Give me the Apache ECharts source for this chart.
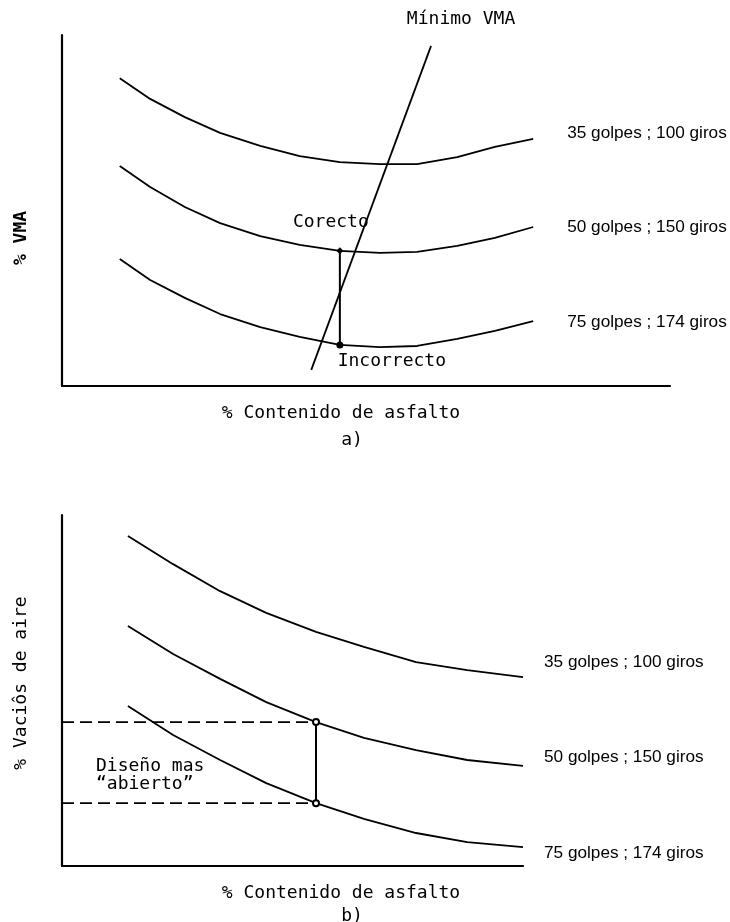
<!DOCTYPE html>
<html>
<head>
<meta charset="utf-8">
<script src="https://cdn.jsdelivr.net/npm/echarts@6/dist/echarts.min.js"></script>
<style>
  html, body { margin: 0; padding: 0; background: #fff; }
  #chart { width: 730px; height: 922px; }
</style>
</head>
<body>
<div id="chart"></div>
<script>
// a) % VMA vs % contenido de asfalto (sin escala: unidades 0-100)
const xTop = [9.5, 14.5, 20.2, 26.0, 32.6, 39.1, 45.7, 52.3, 58.4, 65.0, 71.2, 77.5];
const vma35 = [87.7, 81.8, 76.6, 72.1, 68.4, 65.5, 63.8, 63.2, 63.2, 65.2, 68.1, 70.4];
const vma50 = [62.7, 56.7, 51.0, 46.4, 42.7, 40.2, 38.5, 37.9, 38.2, 39.9, 42.2, 45.3];
const vma75 = [36.2, 30.2, 25.1, 20.5, 16.8, 14.0, 11.7, 11.1, 11.4, 13.4, 15.7, 18.5];
const minVma = [[60.7, 96.9], [41.0, 4.6]];
const checkIdx = 6;

// b) % vacios de aire vs % contenido de asfalto
const xBottom = [14.3, 24.1, 34.3, 44.3, 55.1, 65.5, 76.8, 87.9, 100];
const voids35 = [94.0, 86.0, 78.3, 72.1, 66.7, 62.4, 58.1, 55.8, 53.8];
const voids50 = [68.4, 60.4, 53.3, 46.7, 41.0, 36.5, 33.0, 30.2, 28.5];
const voids75 = [45.6, 37.3, 30.2, 23.6, 17.9, 13.4, 9.4, 6.8, 5.4];
const designIdx = 4;

const names = ["35 golpes ; 100 giros", "50 golpes ; 150 giros", "75 golpes ; 174 giros"];
const topLabelShift = [[34, -6], [34, 0], [34, 1]];
const bottomLabelShift = [[21, -15], [21, -9], [21, 6]];

const cad = "DejaVu Sans Mono";
const chart = echarts.init(document.getElementById("chart"));

function axisX(idx, max) {
  return {
    type: "value", gridIndex: idx, min: 0, max: max,
    axisLine: { lineStyle: { color: "#000", width: 2.2 } },
    axisTick: { show: false }, axisLabel: { show: false }, splitLine: { show: false }
  };
}
function axisY(idx) {
  return {
    type: "value", gridIndex: idx, min: 0, max: 100,
    axisLine: { show: true, lineStyle: { color: "#000", width: 2.2 } },
    axisTick: { show: false }, axisLabel: { show: false }, splitLine: { show: false }
  };
}
function curve(i, xs, ys, grid, shift) {
  return {
    name: names[i], type: "line", xAxisIndex: grid, yAxisIndex: grid,
    data: xs.map((x, k) => [x, ys[k]]),
    showSymbol: false, silent: true,
    lineStyle: { color: "#000", width: 1.8 },
    endLabel: {
      show: true, formatter: names[i], distance: 0, offset: shift[i],
      fontFamily: "Liberation Sans", fontSize: 17.2, color: "#000"
    }
  };
}
const cadLabel = { fontFamily: cad, fontSize: 18, color: "#000" };

chart.setOption({
  animation: false,
  backgroundColor: "#fff",
  grid: [
    { left: 62, top: 35, width: 608, height: 351 },
    { left: 62, top: 515, width: 461, height: 351 }
  ],
  xAxis: [axisX(0, 100), axisX(1, 100)],
  yAxis: [axisY(0), axisY(1)],
  series: [
    curve(0, xTop, vma35, 0, topLabelShift),
    curve(1, xTop, vma50, 0, topLabelShift),
    curve(2, xTop, vma75, 0, topLabelShift),
    {
      type: "line", xAxisIndex: 0, yAxisIndex: 0, silent: true,
      data: [
        { value: minVma[0], label: Object.assign({ show: true, position: "inside", offset: [30, -27], formatter: "Mínimo VMA" }, cadLabel) },
        minVma[1]
      ],
      symbol: "circle", symbolSize: 0.1, showAllSymbol: true,
      itemStyle: { color: "#000" },
      lineStyle: { color: "#000", width: 1.8 }
    },
    {
      type: "line", xAxisIndex: 0, yAxisIndex: 0, silent: true,
      data: [
        { value: [xTop[checkIdx], vma50[checkIdx]], symbol: "diamond",
          label: Object.assign({ show: true, position: "inside", offset: [-9, -29], formatter: "Corecto" }, cadLabel) },
        { value: [xTop[checkIdx], vma75[checkIdx]], symbol: "circle",
          label: Object.assign({ show: true, position: "inside", offset: [52, 16], formatter: "Incorrecto" }, cadLabel) }
      ],
      symbolSize: 7, showAllSymbol: true,
      itemStyle: { color: "#000" },
      lineStyle: { color: "#000", width: 2 }
    },

    curve(0, xBottom, voids35, 1, bottomLabelShift),
    curve(1, xBottom, voids50, 1, bottomLabelShift),
    curve(2, xBottom, voids75, 1, bottomLabelShift),
    {
      type: "line", xAxisIndex: 1, yAxisIndex: 1, silent: true,
      data: [[0, voids50[designIdx]], [xBottom[designIdx], voids50[designIdx]]],
      symbol: "none", lineStyle: { color: "#000", width: 1.6, type: [12, 6] }
    },
    {
      type: "line", xAxisIndex: 1, yAxisIndex: 1, silent: true,
      data: [[0, voids75[designIdx]], [xBottom[designIdx], voids75[designIdx]]],
      symbol: "none", lineStyle: { color: "#000", width: 1.6, type: [12, 6] }
    },
    {
      type: "line", xAxisIndex: 1, yAxisIndex: 1, silent: true,
      data: [[xBottom[designIdx], voids50[designIdx]], [xBottom[designIdx], voids75[designIdx]]],
      symbol: "emptyCircle", symbolSize: 6, showAllSymbol: true,
      itemStyle: { color: "#000", borderWidth: 1.6 },
      lineStyle: { color: "#000", width: 2 }
    }
  ],
  graphic: [
    { type: "text", x: 21, y: 238, rotation: Math.PI / 2,
      style: Object.assign({ text: "% VMA", align: "center", verticalAlign: "middle" }, cadLabel, { fontWeight: "bold" }) },
    { type: "text", x: 341, y: 413, style: Object.assign({ text: "% Contenido de asfalto", align: "center", verticalAlign: "middle" }, cadLabel) },
    { type: "text", x: 352, y: 440, style: Object.assign({ text: "a)", align: "center", verticalAlign: "middle" }, cadLabel) },
    { type: "text", x: 21, y: 683, rotation: Math.PI / 2,
      style: Object.assign({ text: "% Vaciôs de aire", align: "center", verticalAlign: "middle" }, cadLabel) },
    { type: "text", x: 96, y: 775, style: Object.assign({ text: "Diseño mas\n“abierto”", align: "left", verticalAlign: "middle", lineHeight: 18 }, cadLabel) },
    { type: "text", x: 341, y: 893, style: Object.assign({ text: "% Contenido de asfalto", align: "center", verticalAlign: "middle" }, cadLabel) },
    { type: "text", x: 352, y: 916, style: Object.assign({ text: "b)", align: "center", verticalAlign: "middle" }, cadLabel) }
  ]
});
</script>
</body>
</html>
